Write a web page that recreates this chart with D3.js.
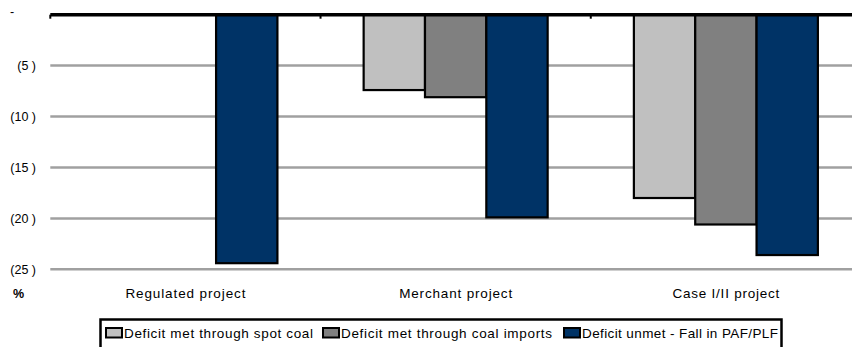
<!DOCTYPE html>
<html>
<head>
<meta charset="utf-8">
<script src="https://cdn.jsdelivr.net/npm/d3@7"></script>
<style>
  html, body { margin: 0; padding: 0; background: #fff; }
  svg { display: block; }
</style>
</head>
<body>
<svg id="chart" width="852" height="347" font-family="'Liberation Sans', Arial, sans-serif"></svg>
<script>
// Project categories and deficit shares (%), shown as negative values
const categories = ["Regulated project", "Merchant project", "Case I/II project"];
const seriesNames = [
  "Deficit met through spot coal",
  "Deficit met through coal imports",
  "Deficit unmet - Fall in PAF/PLF"
];
const spotCoal   = [null, -7.4, -18.0];
const coalImport = [null, -8.1, -20.6];
const unmet      = [-24.4, -19.9, -23.6];
const yTicks = [0, -5, -10, -15, -20, -25];
const colors = ["#c0c0c0", "#808080", "#003366"];

const seriesValues = [spotCoal, coalImport, unmet];

const svg = d3.select("#chart");
const margin = { left: 50.3, right: -9, top: 14.7 };
const W = 852;

const x0 = d3.scaleBand().domain(categories).range([margin.left, W - margin.right]).paddingInner(0);
const groupW = 184;
const x1 = d3.scaleBand().domain(d3.range(seriesNames.length)).range([0, groupW]);
const y = d3.scaleLinear().domain([0, -25]).range([margin.top, 269.3]);

// Gridlines
svg.append("g")
  .selectAll("line").data(yTicks.filter(d => d !== 0)).join("line")
  .attr("x1", margin.left).attr("x2", W)
  .attr("y1", d => y(d)).attr("y2", d => y(d))
  .attr("stroke", "#a0a0a0").attr("stroke-width", 2.5);

// Y tick labels
const yAxis = d3.axisLeft(y).tickValues(yTicks).tickSize(0).tickPadding(0)
  .tickFormat(d => d === 0 ? "-" : "(" + Math.abs(d) + " )");
const yg = svg.append("g").attr("transform", "translate(36,0)").call(yAxis);
yg.select(".domain").remove();
yg.attr("font-family", null).attr("font-size", null);
yg.selectAll("text").attr("font-size", 12.5).attr("fill", "#000");
yg.selectAll(".tick").filter(d => d === 0).select("text")
  .attr("text-anchor", "start").attr("x", -26).attr("dy", "0.1em");

// Bars
const rows = categories.map((c, i) => ({ cat: c, vals: seriesValues.map((s, k) => ({ k, v: s[i] })) }));
const groups = svg.append("g").selectAll("g").data(rows).join("g")
  .attr("transform", d => `translate(${x0(d.cat) + (x0.bandwidth() - groupW) / 2},0)`);
groups.selectAll("rect").data(d => d.vals.filter(e => e.v != null)).join("rect")
  .attr("x", d => x1(d.k))
  .attr("width", x1.bandwidth())
  .attr("y", y(0))
  .attr("height", d => y(d.v) - y(0))
  .attr("fill", d => colors[d.k])
  .attr("stroke", "#000").attr("stroke-width", 2.2);

// Category axis along zero
svg.append("line").attr("x1", margin.left).attr("x2", W)
  .attr("y1", y(0)).attr("y2", y(0)).attr("stroke", "#000").attr("stroke-width", 3.5);
const bounds = [x0.range()[0]].concat(categories.slice(1).map(c => x0(c)));
svg.append("g").selectAll("line").data(bounds).join("line")
  .attr("x1", d => d).attr("x2", d => d)
  .attr("y1", y(0)).attr("y2", y(0) + 4)
  .attr("stroke", "#000").attr("stroke-width", 2);

// Category labels
const catWidths = [120, 113, 107];
svg.append("g").selectAll("text").data(categories).join("text")
  .attr("x", d => x0(d) + x0.bandwidth() / 2 - catWidths[categories.indexOf(d)] / 2)
  .attr("y", 298)
  .attr("font-size", 13.5)
  .attr("textLength", (d, i) => catWidths[i])
  .attr("lengthAdjust", "spacing")
  .text(d => d);

svg.append("text").attr("x", 13).attr("y", 298).attr("font-size", 12.5)
  .attr("font-weight", "bold").text("%");

// Legend
const lg = svg.append("g");
lg.append("rect").attr("x", 100.5).attr("y", 319.5).attr("width", 681).attr("height", 40)
  .attr("fill", "#fff").attr("stroke", "#000").attr("stroke-width", 2.5);
const legendX = [106, 323, 564];
const legendW = [189, 211, 196];
seriesNames.forEach((n, k) => {
  lg.append("rect").attr("x", legendX[k]).attr("y", 328).attr("width", 16).attr("height", 9.5)
    .attr("fill", colors[k]).attr("stroke", "#000").attr("stroke-width", 2);
  lg.append("text").attr("x", legendX[k] + 18).attr("y", 338).attr("font-size", 13.5)
    .attr("textLength", legendW[k]).attr("lengthAdjust", "spacing").text(n);
});
</script>
</body>
</html>
